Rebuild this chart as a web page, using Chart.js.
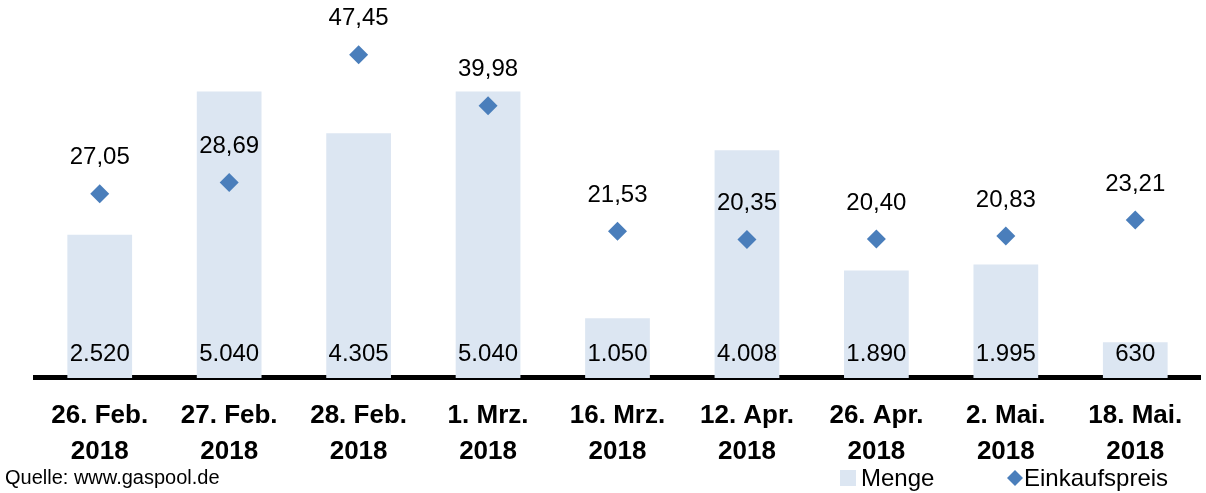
<!DOCTYPE html>
<html>
<head>
<meta charset="utf-8">
<script src="https://cdn.jsdelivr.net/npm/chart.js@4"></script>
<style>
  html, body { margin: 0; padding: 0; background: #fff; }
  #wrap { position: relative; width: 1206px; height: 493px; }
  #source { position: absolute; left: 5px; top: 466px; font: 20px "Liberation Sans", Arial, sans-serif; color: #000; }
</style>
</head>
<body>
<div id="wrap">
  <canvas id="chart" width="1206" height="493"></canvas>
  <div id="source">Quelle: www.gaspool.de</div>
</div>
<script>
// ---------------- DATA ----------------
const dates = [
    ["26. Feb.", "2018"], ["27. Feb.", "2018"], ["28. Feb.", "2018"],
    ["1. Mrz.", "2018"], ["16. Mrz.", "2018"], ["12. Apr.", "2018"],
    ["26. Apr.", "2018"], ["2. Mai.", "2018"], ["18. Mai.", "2018"]
];
const menge = [2520, 5040, 4305, 5040, 1050, 4008, 1890, 1995, 630];
const preis = [27.05, 28.69, 47.45, 39.98, 21.53, 20.35, 20.40, 20.83, 23.21];

const FONT = "'Liberation Sans', Arial, sans-serif";
const BAR_COLOR = "#dce6f2";
const DOT_COLOR = "#4a7ebb";

// ---------------- LABELS + LEGEND ----------------
const valueLabels = {
    id: "valueLabels",
    afterDatasetsDraw(chart) {
        const ctx = chart.ctx;
        ctx.save();
        ctx.fillStyle = "#000";
        ctx.textAlign = "center";
        ctx.textBaseline = "middle";
        ctx.font = "24px " + FONT;

        chart.getDatasetMeta(0).data.forEach((bar, i) => {
            ctx.fillText(menge[i].toLocaleString("de-DE"), bar.x, chart.chartArea.bottom - 24);
        });
        chart.getDatasetMeta(1).data.forEach((pt, i) => {
            ctx.fillText(preis[i].toFixed(2).replace(".", ","), pt.x, pt.y - 36);
        });
        ctx.restore();
    },
    afterDraw(chart) {
        // legend, bottom right
        const ctx = chart.ctx;
        const y = 478;
        ctx.save();
        ctx.font = "24px " + FONT;
        ctx.textAlign = "left";
        ctx.textBaseline = "middle";

        ctx.fillStyle = BAR_COLOR;
        ctx.fillRect(840, y - 8, 16, 16);
        ctx.fillStyle = "#000";
        ctx.fillText(chart.data.datasets[0].label, 861, y + 1);

        ctx.fillStyle = DOT_COLOR;
        ctx.beginPath();
        ctx.moveTo(1015, y - 8);
        ctx.lineTo(1023, y);
        ctx.lineTo(1015, y + 8);
        ctx.lineTo(1007, y);
        ctx.closePath();
        ctx.fill();
        ctx.fillStyle = "#000";
        ctx.fillText(chart.data.datasets[1].label, 1024, y + 1);
        ctx.restore();
    }
};

// ---------------- CHART ----------------
const ctx = document.getElementById("chart").getContext("2d");

new Chart(ctx, {
    data: {
        labels: dates,
        datasets: [{
            type: "bar",
            label: "Menge",
            data: menge,
            backgroundColor: BAR_COLOR,
            barPercentage: 0.5,
            categoryPercentage: 1,
            yAxisID: "y",
            order: 2
        }, {
            type: "line",
            label: "Einkaufspreis",
            data: preis,
            showLine: false,
            pointStyle: "rectRot",
            pointRadius: 9.5,
            pointHoverRadius: 9.5,
            backgroundColor: DOT_COLOR,
            borderColor: DOT_COLOR,
            borderWidth: 0,
            yAxisID: "y2",
            order: 1
        }]
    },
    options: {
        responsive: false,
        animation: false,
        layout: { autoPadding: false, padding: { left: 35, right: 6, top: 0, bottom: 11 } },
        plugins: {
            tooltip: { enabled: false },
            legend: { display: false }
        },
        scales: {
            x: {
                grid: { display: false },
                border: { display: true, color: "#000", width: 5 },
                ticks: {
                    color: "#000",
                    padding: 12,
                    maxRotation: 0,
                    font: { family: FONT, size: 26, weight: "bold", lineHeight: 1.385 }
                }
            },
            y: { display: false, min: 0, max: 6650 },
            y2: { display: false, min: 0, max: 55.5 }
        }
    },
    plugins: [valueLabels]
});
</script>
</body>
</html>
